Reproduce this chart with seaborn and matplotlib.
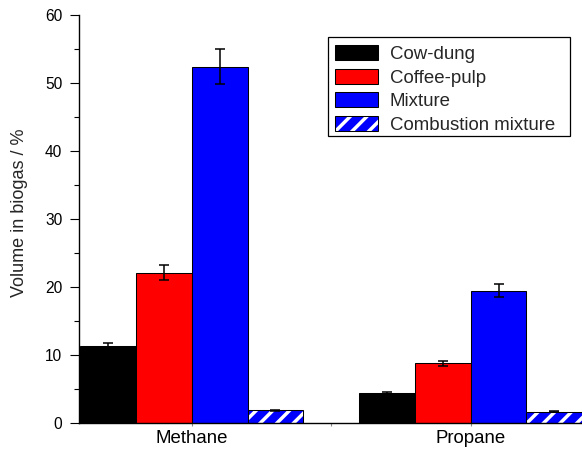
import matplotlib
matplotlib.use("Agg")
import matplotlib.pyplot as plt
import seaborn as sns
import pandas as pd
from matplotlib.patches import Patch, Rectangle
from matplotlib.legend_handler import HandlerTuple
from matplotlib.ticker import MultipleLocator, FixedLocator

gases = ["Methane", "Propane"]
series = ["Cow-dung", "Coffee-pulp", "Mixture", "Combustion mixture"]
cow_dung = [11.3, 4.5]
coffee_pulp = [22.1, 8.8]
mixture = [52.4, 19.5]
combustion = [1.9, 1.7]
cow_dung_err = [0.5, 0.15]
coffee_pulp_err = [1.1, 0.4]
mixture_err = [2.6, 1.0]
combustion_err = [0.1, 0.08]
colors = ["#000000", "#FF0000", "#0000FF", "#0000FF"]
y_label = "Volume in biogas / %"

values = [cow_dung, coffee_pulp, mixture, combustion]
errors = [cow_dung_err, coffee_pulp_err, mixture_err, combustion_err]

sns.set_style("ticks")
plt.rcParams["font.family"] = ["Liberation Sans", "DejaVu Sans"]
plt.rcParams["hatch.linewidth"] = 2.5

rows = []
for s, vals in zip(series, values):
    for g, v in zip(gases, vals):
        rows.append({"gas": g, "series": s, "value": v})
df = pd.DataFrame(rows)

W, H = 582, 451
fig = plt.figure(figsize=(W / 100, H / 100), dpi=100)
ax = fig.add_axes([79 / W, (H - 423.3) / H, (W - 79) / W, (423.3 - 15) / H])

sns.barplot(data=df, x="gas", y="value", hue="series", hue_order=series, order=gases,
            palette=colors, edgecolor="black", linewidth=0.75, errorbar=None,
            legend=False, saturation=1, ax=ax)

bar_containers = list(ax.containers)
for i, cont in enumerate(bar_containers):
    for j, bar in enumerate(cont.patches):
        if i == 3:
            bar.set_edgecolor("white")
            bar.set_hatch("//")
            bar.set_linewidth(0)
            ax.add_patch(Rectangle(bar.get_xy(), bar.get_width(), bar.get_height(),
                                   fill=False, edgecolor="black", linewidth=0.75, zorder=bar.get_zorder() + 0.1))
        xc = bar.get_x() + bar.get_width() / 2
        ax.errorbar(xc, bar.get_height(), yerr=errors[i][j], color="black",
                    elinewidth=1.1, capsize=3.6, capthick=1.1, zorder=5)

ax.set_xlim(-0.404, 1.399)
ax.set_ylim(0, 60)
ax.yaxis.set_major_locator(MultipleLocator(10))
ax.yaxis.set_minor_locator(MultipleLocator(5))
ax.xaxis.set_minor_locator(FixedLocator([0.5]))
ax.tick_params(axis="y", which="major", length=6.5, width=0.8, labelsize=11.2, direction="out",
               color="black", labelcolor="black", pad=5.5)
ax.tick_params(axis="y", which="minor", length=3.6, width=0.8, direction="out", color="black")
ax.tick_params(axis="x", which="major", length=2, width=0.8, labelsize=13.4, direction="out",
               color="#888888", labelcolor="black", pad=3)
ax.tick_params(axis="x", which="minor", length=2, width=0.8, direction="out", color="#888888")
for side in ["top", "right"]:
    ax.spines[side].set_visible(False)
for side in ["left", "bottom"]:
    ax.spines[side].set_color("black")
    ax.spines[side].set_linewidth(1.0)

ax.set_xlabel("")
ax.set_ylabel(y_label, fontsize=13)
ax.yaxis.set_label_coords(-0.101, 0.516)

handles = [
    Patch(facecolor=colors[0], edgecolor="black", linewidth=0.75),
    Patch(facecolor=colors[1], edgecolor="black", linewidth=0.75),
    Patch(facecolor=colors[2], edgecolor="black", linewidth=0.75),
    (Patch(facecolor=colors[3], edgecolor="white", hatch="//", linewidth=0),
     Patch(fill=False, edgecolor="black", linewidth=0.75)),
]
leg = ax.legend(handles, series, loc="upper left",
                bbox_to_anchor=(327 / W, 1 - 37 / H), bbox_transform=fig.transFigure,
                borderaxespad=0, fontsize=13.4, handlelength=2.31, handleheight=0.85,
                handletextpad=0.6, labelspacing=0.30, borderpad=0.45,
                frameon=False, handler_map={tuple: HandlerTuple(ndivide=1)})
fig.add_artist(Rectangle((328 / W, 1 - 136 / H), 242 / W, 99 / H, transform=fig.transFigure,
                         fill=False, edgecolor="black", linewidth=0.9, zorder=10))

fig.savefig("out.png", dpi=100)
